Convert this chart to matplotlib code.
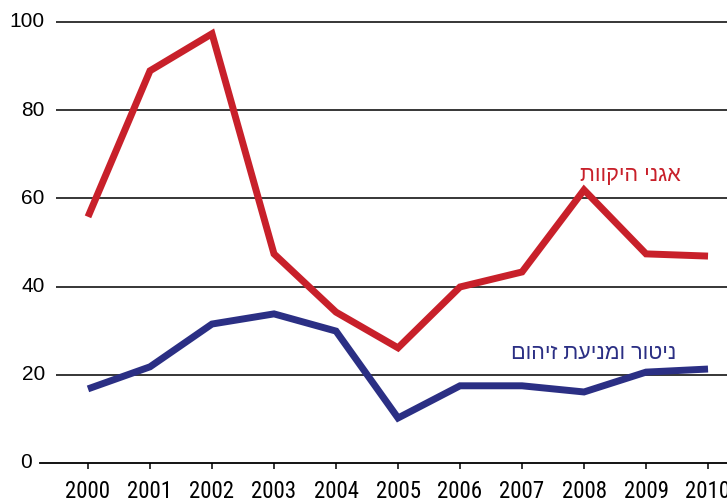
import numpy as np
import matplotlib.pyplot as plt

plt.rcParams['font.family'] = ['Liberation Sans', 'DejaVu Sans']

years = np.arange(2000, 2011)
basins = [55.8, 88.9, 97.3, 47.4, 34.2, 26.1, 39.9, 43.3, 61.9, 47.4, 46.9]
pollution = [16.8, 21.8, 31.5, 33.8, 29.9, 10.2, 17.5, 17.5, 16.1, 20.6, 21.3]
grid_levels = [20, 40, 60, 80, 100]
y_labels = [0, 20, 40, 60, 80, 100]

label_basins = "אגני היקוות"
label_pollution = "ניטור ומניעת זיהום"

red = '#c8202a'
blue = '#2b2f84'


def rtl(s):
    # matplotlib has no bidi support, so put hebrew into visual order
    return s[::-1]


fig = plt.figure(figsize=(7.27, 5.04), dpi=100)
ax = fig.add_axes([40 / 727, 41 / 504, 687 / 727, 450 / 504])

ax.set_xlim(1999.226, 2010.306)
ax.set_ylim(0, 102)

ax.hlines(grid_levels, 1999.484, 2010.306, colors='k', linewidth=1.1, zorder=1)

ax.plot(years, basins, color=red, linewidth=5, solid_joinstyle='miter',
        solid_capstyle='butt', zorder=3, clip_on=False)
ax.plot(years, pollution, color=blue, linewidth=5, solid_joinstyle='miter',
        solid_capstyle='butt', zorder=3, clip_on=False)

ax.text(2008.75, 65.2, rtl(label_basins), color=red, fontsize=15.5,
        ha='center', va='center')
ax.text(2008.15, 24.8, rtl(label_pollution), color=blue, fontsize=15.5,
        ha='center', va='center')

for s in ['top', 'right', 'left']:
    ax.spines[s].set_visible(False)
ax.spines['bottom'].set_linewidth(1.3)
ax.spines['bottom'].set_zorder(2)

ax.set_yticks([])
for v in y_labels:
    xpos = 1999.226 - 0.13 if v == 0 else 1999.484 - 0.18
    ax.text(xpos, v, str(v), fontsize=15, ha='right', va='center')

ax.set_xticks(years)
ax.set_xticklabels([str(y) for y in years], fontsize=16.5,
                   family=['Roboto Condensed', 'Liberation Sans'])
ax.tick_params(axis='x', direction='out', length=4.5, width=1.1, pad=8)

fig.savefig('out.png', dpi=100)
